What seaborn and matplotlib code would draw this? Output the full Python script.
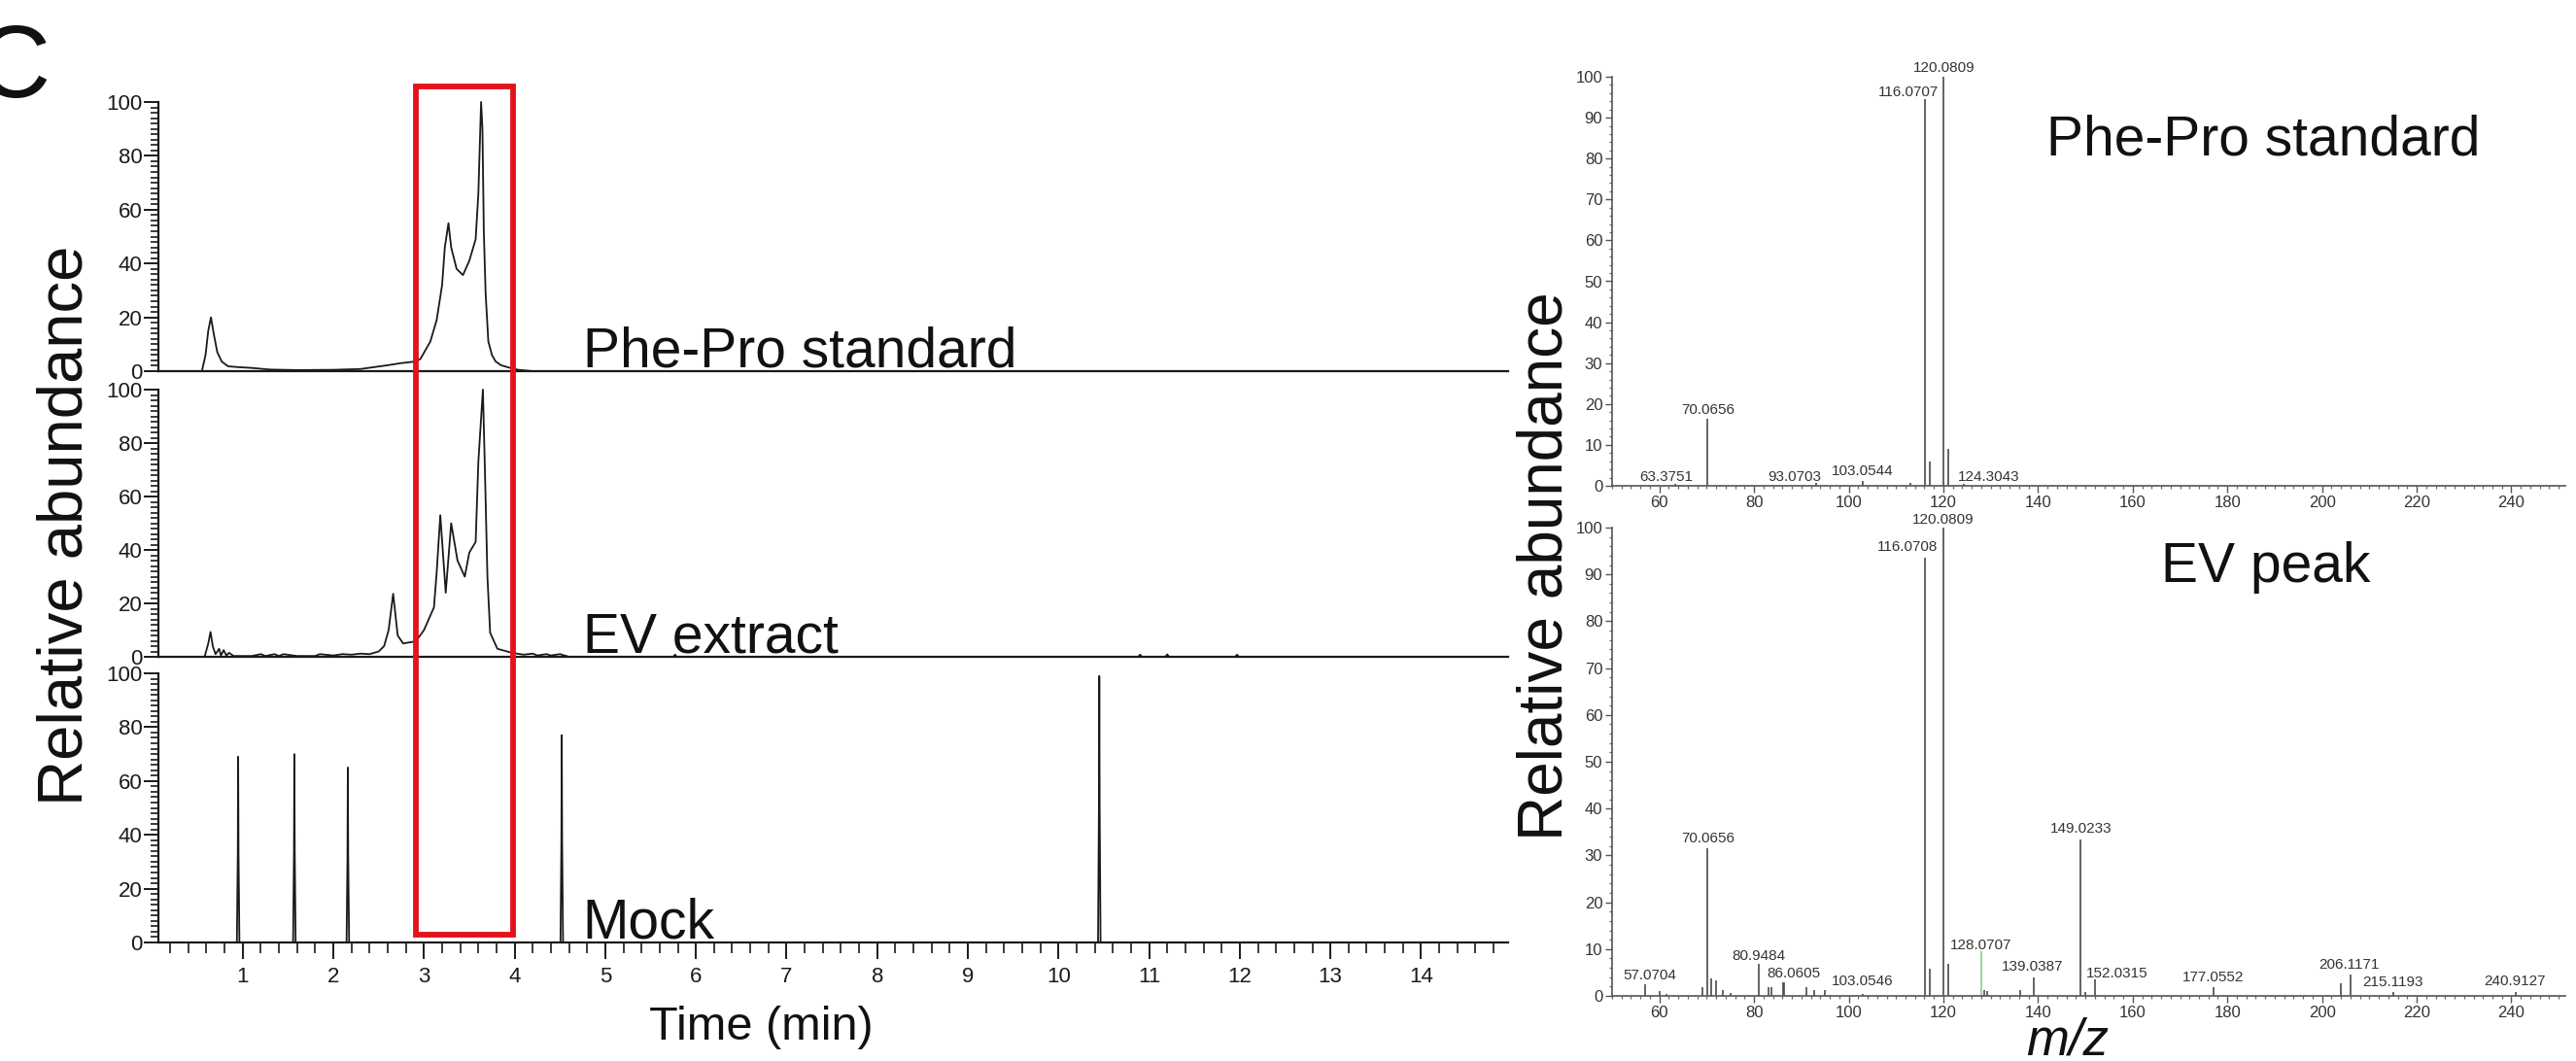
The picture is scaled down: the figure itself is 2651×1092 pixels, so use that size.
import matplotlib
matplotlib.use("Agg")
import matplotlib.pyplot as plt
import matplotlib.transforms as mtransforms
from matplotlib.patches import Rectangle
from matplotlib.ticker import MultipleLocator
import seaborn as sns

# ---------------- data ----------------
# Chromatogram: Phe-Pro standard (time in min, relative abundance)
pp_time = [0.07, 0.55, 0.59, 0.62, 0.65, 0.68, 0.72, 0.77, 0.84, 0.95, 1.1, 1.3, 1.6, 2.0,
           2.3, 2.45, 2.6, 2.75, 2.91, 2.96, 3.07, 3.14, 3.20, 3.23, 3.27, 3.30, 3.36, 3.43,
           3.50, 3.57, 3.60, 3.63, 3.645, 3.66, 3.68, 3.71, 3.75, 3.79, 3.85, 3.93, 4.04,
           4.2, 14.96]
pp_abund = [0, 0, 6, 15, 20, 14, 7, 3.5, 1.8, 1.5, 1.2, 0.6, 0.4, 0.5,
            0.8, 1.5, 2.2, 3, 3.6, 4.5, 11, 19, 32, 46, 55, 46, 38, 35.7,
            41, 49, 66, 100, 90, 52, 29, 11, 6, 3.6, 2.2, 1.4, 0.5,
            0, 0]

# Chromatogram: EV extract
ev_time = [0.07, 0.58, 0.62, 0.645, 0.67, 0.70, 0.74, 0.76, 0.79, 0.82, 0.85, 0.9, 1.1, 1.2,
           1.25, 1.35, 1.4, 1.45, 1.6, 1.8, 1.85, 2.0, 2.1, 2.2, 2.3, 2.4, 2.5, 2.56, 2.61,
           2.66, 2.71, 2.77, 2.91, 3.0, 3.11, 3.14, 3.18, 3.24, 3.30, 3.37, 3.45, 3.50, 3.57,
           3.60, 3.65, 3.67, 3.70, 3.73, 3.81, 3.97, 4.1, 4.2, 4.25, 4.35, 4.4, 4.5, 4.6,
           5.75, 5.77, 5.79, 10.88, 10.9, 10.92, 11.18, 11.2, 11.22, 11.95, 11.97, 11.99, 14.96]
ev_abund = [0, 0, 5, 9.3, 4, 1, 3, 0.5, 2.5, 0.5, 1.5, 0.3, 0.3, 1,
            0.3, 1, 0.3, 1, 0.3, 0.3, 1, 0.5, 1, 0.8, 1.2, 1, 2, 4, 10,
            23.6, 8, 5, 5.8, 10, 18.5, 31.6, 53, 24, 50, 36, 30, 39, 43,
            73, 100, 73, 30, 9, 3, 1.5, 0.8, 1.2, 0.5, 1, 0.5, 1.0, 0,
            0, 0.8, 0, 0, 0.8, 0, 0, 0.9, 0, 0, 0.8, 0, 0]

# Chromatogram: Mock (sharp spikes)
mock_time = [0.07,
             0.936, 0.946, 0.95, 0.954, 0.964,
             1.556, 1.566, 1.57, 1.574, 1.584,
             2.146, 2.156, 2.16, 2.164, 2.174,
             4.506, 4.516, 4.52, 4.524, 4.534,
             10.436, 10.446, 10.45, 10.454, 10.464,
             14.96]
mock_abund = [0,
              0, 33, 69, 33, 0,
              0, 34, 70, 34, 0,
              0, 32, 65, 32, 0,
              0, 38, 77, 38, 0,
              0, 50, 99, 50, 0,
              0]

trace_names = ["Phe-Pro standard", "EV extract", "Mock"]
time_ticks = list(range(1, 15))
highlight_window = (2.91, 3.98)

# MS/MS spectrum: Phe-Pro standard
std_mz = [63.38, 70.07, 93.07, 103.05, 113.0, 116.07, 117.07, 120.08, 121.08, 124.30]
std_int = [0.5, 16.5, 0.6, 1.3, 0.8, 94.5, 6.0, 100, 9.0, 0.4]
std_labels = ["63.3751", "70.0656", "93.0703", "103.0544", "116.0707", "120.0809", "124.3043"]
std_label_mz = [61.5, 70.3, 88.5, 103.0, 112.6, 120.1, 129.5]
std_label_int = [2.2, 18.6, 2.2, 3.6, 96.3, 102.2, 2.2]

# MS/MS spectrum: EV peak
evs_mz = [57.07, 60.0, 61.5, 69.0, 70.07, 71.0, 72.0, 73.5, 75.0, 80.95, 83.1, 83.7, 86.06,
          86.4, 91.0, 92.8, 95.0, 103.05, 116.07, 117.07, 120.08, 121.08, 128.6, 129.3,
          136.3, 139.04, 149.02, 150.0, 152.03, 177.06, 204.0, 206.12, 215.12, 240.91]
evs_int = [2.5, 1.1, 0.5, 1.8, 31.5, 3.7, 3.3, 1.2, 0.6, 6.9, 1.8, 1.8, 3.0,
           3.0, 1.8, 1.3, 1.3, 0.5, 93.5, 5.8, 100, 6.9, 1.3, 1.1,
           1.3, 4.0, 33.5, 0.8, 3.5, 1.8, 2.6, 4.6, 0.8, 0.8]
evs_green_mz = [128.07]
evs_green_int = [9.5]
evs_labels = ["57.0704", "70.0656", "80.9484", "86.0605", "103.0546", "116.0708", "120.0809",
              "128.0707", "139.0387", "149.0233", "152.0315", "177.0552", "206.1171",
              "215.1193", "240.9127"]
evs_label_mz = [57.9, 70.3, 81.0, 88.3, 102.9, 112.5, 120.0, 127.9, 138.9, 149.0, 156.7,
                177.0, 205.7, 215.0, 240.7]
evs_label_int = [4.3, 33.6, 8.5, 4.7, 3.2, 95.8, 101.6, 10.8, 6.2, 35.6, 4.7, 4.0, 6.7,
                 2.9, 3.1]

spec_titles = ["Phe-Pro standard", "EV peak"]

# ---------------- style ----------------
sns.set_theme(style="ticks")
plt.rcParams["font.family"] = ["Liberation Sans", "DejaVu Sans"]
plt.rcParams["axes.linewidth"] = 1.5

W, H = 2651, 1092
fig = plt.figure(figsize=(W / 100, H / 100), dpi=100)
fig.patch.set_facecolor("white")


def fx(px):
    return px / W


def fy(py):
    return 1 - py / H


left_x0, left_x1 = 163, 1552
left_rows = [(105, 382), (401, 676), (693, 970)]
traces = [(pp_time, pp_abund), (ev_time, ev_abund), (mock_time, mock_abund)]
left_axes = []
for i, ((top, bot), (t, a)) in enumerate(zip(left_rows, traces)):
    ax = fig.add_axes([fx(left_x0), fy(bot), fx(left_x1 - left_x0), (bot - top) / H])
    ax.set_facecolor("none")
    sns.lineplot(x=t, y=a, ax=ax, color="#1a1a1a", linewidth=1.3, estimator=None,
                 sort=False)
    ax.set_xlim(0.07, 14.96)
    ax.set_ylim(0, 100)
    for s in ["top", "right"]:
        ax.spines[s].set_visible(False)
    ax.spines["left"].set_color("#1a1a1a")
    ax.spines["bottom"].set_color("#1a1a1a")
    ax.spines["left"].set_linewidth(1.6)
    ax.spines["bottom"].set_linewidth(1.6)
    ax.set_yticks([0, 20, 40, 60, 80, 100])
    ax.yaxis.set_minor_locator(MultipleLocator(2))
    ax.tick_params(axis="y", which="major", length=11, width=1.4, labelsize=16, pad=1,
                   colors="#1a1a1a")
    ax.tick_params(axis="y", which="minor", length=6, width=1.2, colors="#1a1a1a")
    if i < 2:
        ax.set_xticks([])
        ax.tick_params(axis="x", which="both", length=0, labelbottom=False)
    else:
        ax.set_xticks(time_ticks)
        ax.xaxis.set_minor_locator(MultipleLocator(0.2))
        ax.tick_params(axis="x", which="major", length=12, width=1.4, labelsize=16,
                       pad=6, colors="#1a1a1a")
        ax.tick_params(axis="x", which="minor", length=8, width=1.2, colors="#1a1a1a")
    for line in ax.lines:
        line.set_clip_on(False)
    ax.set_xlabel("")
    ax.set_ylabel("")
    ax.text(4.75, 1.8, trace_names[i], fontsize=41, ha="left", va="baseline",
            color="#111111")
    left_axes.append(ax)

# red highlight box spanning the three chromatograms
trans = mtransforms.blended_transform_factory(left_axes[2].transData, fig.transFigure)
rect = Rectangle((highlight_window[0], fy(962)), highlight_window[1] - highlight_window[0],
                 fy(89) - fy(962), transform=trans, fill=False, edgecolor="#e3121b",
                 linewidth=4.2, clip_on=False, zorder=10)
fig.patches.append(rect)

fig.text(fx(68), fy(541), "Relative abundance", rotation=90, fontsize=47, ha="center",
         va="center", color="#111111")
fig.text(fx(783), fy(1057), "Time (min)", fontsize=35, ha="center", va="center",
         color="#111111")
fig.text(fx(-24), fy(100), "C", fontsize=76, ha="left", va="baseline", color="#111111")

# ---------------- spectra ----------------
right_x0, right_x1 = 1659, 2640
right_rows = [(79, 500), (543, 1025)]
spectra = [
    (std_mz, std_int, [], [], std_labels, std_label_mz, std_label_int),
    (evs_mz, evs_int, evs_green_mz, evs_green_int, evs_labels, evs_label_mz, evs_label_int),
]
title_pos = [(2106, 160), (2224, 599)]
for j, ((top, bot), spec) in enumerate(zip(right_rows, spectra)):
    mz, inten, gmz, gint, labs, lmz, lint = spec
    ax = fig.add_axes([fx(right_x0), fy(bot), fx(right_x1 - right_x0), (bot - top) / H])
    ax.set_facecolor("none")
    ax.vlines(mz, 0, inten, color="#4a4a4a", linewidth=1.2)
    if gmz:
        ax.vlines(gmz, 0, gint, color="#86cf86", linewidth=1.2)
    ax.set_xlim(50, 251.4)
    ax.set_ylim(0, 100)
    for s in ["top", "right"]:
        ax.spines[s].set_visible(False)
    for s in ["left", "bottom"]:
        ax.spines[s].set_color("#555555")
        ax.spines[s].set_linewidth(1.2)
    ax.xaxis.set_major_locator(MultipleLocator(20))
    ax.xaxis.set_minor_locator(MultipleLocator(2))
    ax.yaxis.set_major_locator(MultipleLocator(10))
    ax.yaxis.set_minor_locator(MultipleLocator(2))
    ax.tick_params(axis="both", which="major", length=5, width=1.0, labelsize=12, pad=2,
                   colors="#555555", labelcolor="#333333")
    ax.tick_params(axis="both", which="minor", length=2.5, width=0.9, colors="#666666")
    for lab, x, y in zip(labs, lmz, lint):
        ax.text(x, y, lab, fontsize=11, ha="center", va="center", color="#333333",
                clip_on=False)
    ax.set_xlabel("")
    ax.set_ylabel("")
    tx, ty = title_pos[j]
    fig.text(fx(tx), fy(ty), spec_titles[j], fontsize=41, ha="left", va="baseline",
             color="#111111")

fig.text(fx(1590), fy(583), "Relative abundance", rotation=90, fontsize=46, ha="center",
         va="center", color="#111111")
fig.text(fx(2128), fy(1072), "m/z", fontsize=38, style="italic", ha="center",
         va="center", color="#111111")

fig.savefig("out.png", dpi=100, facecolor="white")
